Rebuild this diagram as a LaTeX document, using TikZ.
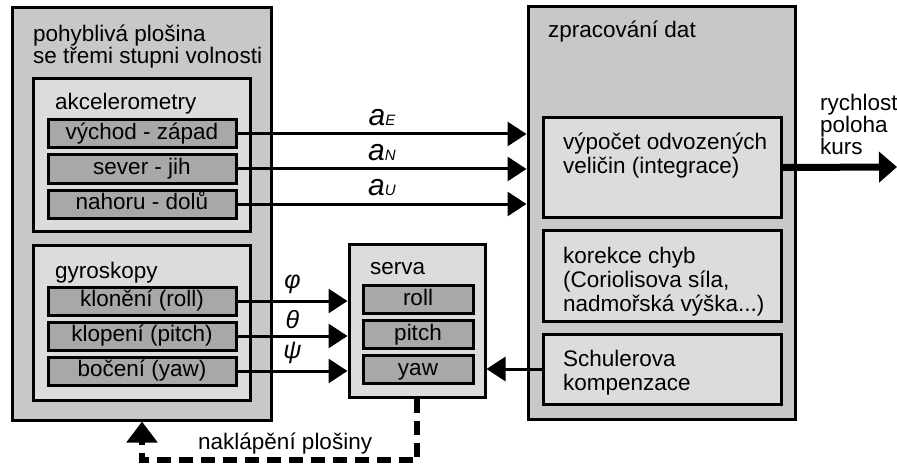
\documentclass[tikz,border=0pt]{standalone}
\usepackage{fontspec}
\setmainfont{Liberation Sans}
\usetikzlibrary{arrows.meta,positioning}
\definecolor{platgray}{HTML}{C8C8C8}
\definecolor{groupgray}{HTML}{DCDCDC}
\definecolor{unitgray}{HTML}{A8A8A8}
\tikzset{
	panel/.style={draw, line width=3pt, fill=platgray, inner sep=0pt},
	group/.style={draw, line width=3pt, fill=groupgray, inner sep=0pt},
	unit/.style={draw, line width=3pt, fill=unitgray, inner sep=0pt, minimum height=28pt, text height=16pt, text depth=4.5pt},
	caption/.style={anchor=base west, align=left, inner sep=0pt},
	signal/.style={line width=3pt, -{Triangle[length=19pt,width=24pt]}},
}
\newcommand{\accel}[1]{\itshape\fontsize{30}{30}\selectfont a\fontsize{15}{15}\selectfont #1}
\newcommand{\tilt}[1]{\itshape\fontsize{25}{25}\selectfont #1}
\begin{document}
\begin{tikzpicture}[x=1pt, y=-1pt, font=\fontsize{22.5}{24}\selectfont]
		\useasboundingbox (0,0) rectangle (897,468);
		\node[panel, minimum width=259pt, minimum height=412pt] (plat) at (141.5,214) {};
		\node[caption] (platname) at (33,64) {pohyblivá plošina\\[-2pt]se třemi stupni volnosti};
		\node[group, minimum width=217pt, minimum height=152pt] (acc) at (141.5,155) {};
		\node[caption] (accname) at (55,110) {akcelerometry};
		\node[unit, minimum width=188pt] (ew) at (142,134) {východ - západ};
		\node[unit, minimum width=188pt] (ns) at (142,169) {sever - jih};
		\node[unit, minimum width=188pt] (ud) at (142,204) {nahoru - dolů};
		\node[group, minimum width=217pt, minimum height=155pt] (gyro) at (141.5,322.5) {};
		\node[caption] (gyroname) at (55,278) {gyroskopy};
		\node[unit, minimum width=188pt] (rollgyro) at (142,301) {klonění (roll)};
		\node[unit, minimum width=188pt] (pitchgyro) at (142,336) {klopení (pitch)};
		\node[unit, minimum width=188pt] (yawgyro) at (142,371) {bočení (yaw)};
		\node[group, minimum width=136pt, minimum height=153pt] (serva) at (417,320.5) {};
		\node[caption] (servaname) at (370,274) {serva};
		\node[unit, minimum width=110pt] (rollservo) at (418,299.5) {roll};
		\node[unit, minimum width=110pt] (pitchservo) at (418,334.5) {pitch};
		\node[unit, minimum width=110pt] (yawservo) at (418,369.5) {yaw};
		\node[panel, minimum width=267pt, minimum height=412pt] (proc) at (661.5,213) {};
		\node[caption] (procname) at (548,38) {zpracování dat};
		\node[group, minimum width=238pt, minimum height=99pt] (vyp) at (662,167.5) {};
		\node[caption] at (563,173) {výpočet odvozených\\veličin (integrace)};
		\node[group, minimum width=238pt, minimum height=91pt] (kor) at (662,275.5) {};
		\node[caption] at (563,311) {korekce chyb\\(Coriolisova síla,\\nadmořská výška...)};
		\node[group, minimum width=238pt, minimum height=70pt] (schul) at (662,369) {};
		\node[caption] at (563,390) {Schulerova\\kompenzace};
		\node[caption] (outname) at (820,155) {rychlost\\[-2pt]poloha\\[-2pt]kurs};
		\coordinate (out) at (897,167);
		\coordinate (tiltcorner) at (142,460);
		\draw[signal] (ew.east) -- (ew.east -| proc.west) node[midway, above=3pt] {\accel{E}};
		\draw[signal] (ns.east) -- (ns.east -| proc.west) node[midway, above=3pt] {\accel{N}};
		\draw[signal] (ud.east) -- (ud.east -| proc.west) node[midway, above=3pt] {\accel{U}};
		\draw[signal] (rollgyro.east) -- (rollgyro.east -| serva.west) node[midway, above=2pt] {\tilt{φ}};
		\draw[signal] (pitchgyro.east) -- (pitchgyro.east -| serva.west) node[midway, above=2pt] {\tilt{θ}};
		\draw[signal] (yawgyro.east) -- (yawgyro.east -| serva.west) node[midway, above=2pt] {\tilt{ψ}};
		\draw[signal] (schul.west) -- (schul.west -| serva.east);
		\draw[line width=7pt, -{Triangle[length=18pt,width=30pt]}] (vyp.east) -- (out);
		\draw[line width=6pt, dash pattern=on 14pt off 8pt, -{Triangle[length=21pt,width=30pt]}] (serva.south) |- (tiltcorner) -- (tiltcorner |- plat.south);
		\node[caption] (tiltname) at (198,449) {naklápění plošiny};
	\end{tikzpicture}
\end{document}
